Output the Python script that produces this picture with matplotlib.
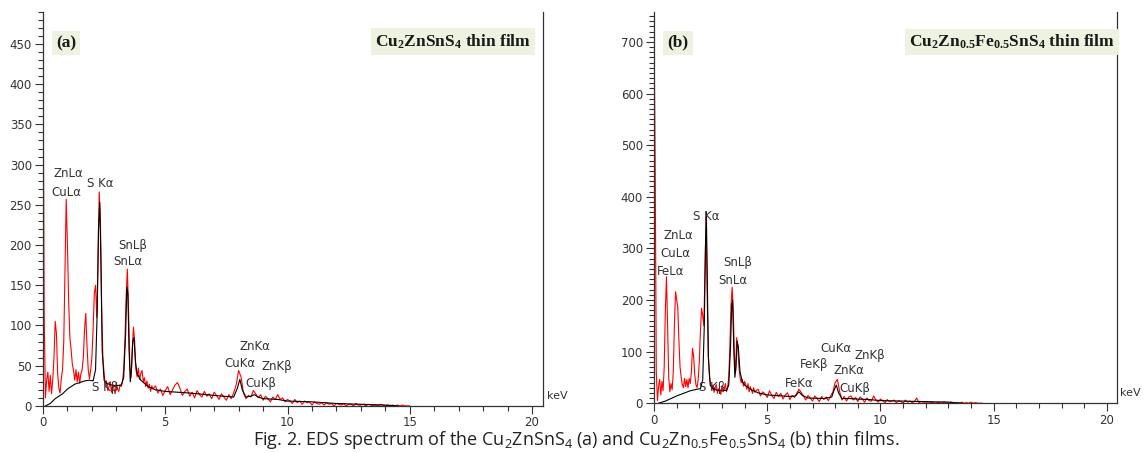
import numpy as np
import matplotlib
matplotlib.use("Agg")
import matplotlib.pyplot as plt
from matplotlib.ticker import MultipleLocator, FixedLocator

plt.rcParams['font.family'] = ['DejaVu Sans']

# ---- panel (a): Cu2ZnSnS4 ----
# measured counts, 0-4.5 keV in 0.05 keV steps
counts_a_low = [460, 110, 10, 32, 42, 18, 38, 15, 33, 60,
                105, 90, 40, 22, 16, 34, 45, 80, 170, 257,
                200, 130, 85, 70, 52, 44, 32, 45, 30, 42,
                28, 40, 45, 60, 95, 115, 75, 45, 34, 44,
                60, 95, 140, 150, 110, 180, 266, 230, 120, 60,
                40, 26, 31, 19, 24, 30, 17, 27, 22, 15,
                29, 21, 18, 26, 24, 30, 45, 80, 135, 170,
                120, 50, 35, 70, 98, 80, 45, 36, 47, 33,
                40, 44, 30, 35, 24, 31, 22, 27, 18, 25, 21]
# 4.6-15 keV in 0.1 keV steps
counts_a_high = [25, 16, 21, 13, 19, 24, 14, 20, 26, 29,
                 22, 13, 18, 21, 12, 17, 10, 19, 14, 11,
                 18, 12, 15, 9, 17, 13, 8, 15, 11, 7,
                 14, 9, 16, 26, 44, 36, 16, 9, 13, 11,
                 19, 15, 10, 14, 7, 12, 9, 5, 11, 8,
                 14, 8, 10, 5, 8, 6, 3, 8, 4, 6,
                 2, 6, 4, 5, 1, 5, 3, 2, 4, 1,
                 4, 2, 3, 0, 3, 2, 1, 3, 0, 2,
                 2, 0, 3, 1, 1, 2, 0, 2, 1, 0,
                 1, 0, 2, 1, 0, 1, 0, 1, 0, 1,
                 0, 1, 0, 0, 0]
fit_a_kev = [0.1, 0.3, 0.5, 0.8, 1.0, 1.3, 1.5, 1.7, 1.9, 2.05, 2.15, 2.22,
             2.27, 2.32, 2.37, 2.42, 2.5, 2.6, 2.8, 3.0, 3.2, 3.3, 3.38, 3.43,
             3.47, 3.52, 3.57, 3.62, 3.67, 3.72, 3.78, 3.85, 4.0, 4.3, 4.6, 5.0,
             6.0, 7.0, 7.8, 7.95, 8.05, 8.15, 8.3, 8.5, 8.65, 8.8, 9.0, 9.6,
             10.0, 11.0, 12.0, 13.0, 14.0, 14.5]
fit_a_counts = [0, 3, 9, 15, 21, 27, 29, 31, 32, 31, 45, 120,
                220, 253, 180, 70, 32, 28, 26, 25, 26, 35, 90, 148,
                140, 70, 30, 45, 80, 85, 55, 40, 32, 24, 20, 18,
                16, 13, 11, 22, 33, 20, 11, 12, 14, 11, 9, 8,
                6, 5, 3, 2, 1, 0]
labels_a = ["ZnL\u03b1", "CuL\u03b1", "S K\u03b1", "SnL\u03b2", "SnL\u03b1", "S K\u03b2",
            "ZnK\u03b1", "CuK\u03b1", "ZnK\u03b2", "CuK\u03b2"]
label_a_kev = [1.02, 0.95, 2.34, 3.69, 3.48, 2.55, 8.65, 8.07, 9.55, 8.93]
label_a_counts = [289, 265, 277, 200, 179, 23, 74, 53, 49, 28]

# ---- panel (b): Cu2Zn0.5Fe0.5SnS4 ----
counts_b_low = [730, 470, 60, 5, 32, 46, 16, 42, 24, 70,
                180, 245, 150, 50, 22, 38, 26, 60, 150, 216,
                200, 185, 120, 70, 50, 36, 30, 48, 32, 46,
                30, 48, 38, 60, 106, 90, 55, 36, 30, 45,
                80, 140, 184, 170, 150, 260, 360, 200, 90, 50,
                38, 26, 35, 21, 30, 36, 19, 28, 24, 17,
                33, 22, 27, 38, 22, 30, 50, 110, 190, 225,
                180, 90, 60, 127, 110, 70, 50, 40, 46, 33,
                42, 36, 27, 38, 22, 32, 26, 19, 30, 21, 24]
counts_b_high = [27, 14, 22, 18, 11, 24, 15, 9, 21, 13,
                 19, 8, 16, 20, 7, 15, 11, 19, 27, 21,
                 14, 6, 15, 10, 4, 14, 9, 3, 13, 7,
                 12, 5, 14, 22, 40, 46, 22, 6, 13, 4,
                 12, 14, 6, 11, 3, 12, 8, 2, 10, 5,
                 4, 14, 6, 2, 8, 5, 1, 7, 3, 4,
                 6, 1, 5, 3, 0, 6, 2, 4, 1, 3,
                 10, 1, 3, 2, 0, 3, 1, 2, 0, 1,
                 2, 0, 3, 1, 0, 2, 1, 0, 1, 0,
                 2, 0, 1, 0, 2, 0, 1, 0, 0, 0]
fit_b_kev = [0.2, 0.5, 0.8, 1.0, 1.3, 1.6, 1.9, 2.05, 2.15, 2.22, 2.27, 2.31,
             2.35, 2.4, 2.48, 2.6, 2.8, 3.0, 3.2, 3.3, 3.38, 3.43, 3.47, 3.52,
             3.57, 3.62, 3.67, 3.72, 3.8, 3.9, 4.0, 4.3, 4.6, 5.0, 6.0, 6.25,
             6.4, 6.55, 6.8, 7.5, 7.85, 7.95, 8.05, 8.15, 8.3, 8.6, 9.0, 9.5,
             10.0, 11.0, 12.0, 13.0, 13.6]
fit_b_counts = [0, 4, 10, 14, 19, 24, 27, 28, 45, 150, 300, 371,
                250, 90, 35, 28, 25, 24, 25, 35, 110, 190, 200, 110,
                50, 70, 120, 110, 60, 42, 35, 26, 20, 16, 13, 14,
                22, 15, 10, 9, 12, 25, 35, 20, 9, 9, 8, 7,
                5, 4, 3, 2, 0]
labels_b = ["S K\u03b1", "ZnL\u03b1", "CuL\u03b1", "FeL\u03b1", "SnL\u03b2", "SnL\u03b1",
            "S K\u03b2", "FeK\u03b1", "FeK\u03b2", "CuK\u03b1", "ZnK\u03b2", "ZnK\u03b1", "CuK\u03b2"]
label_b_kev = [2.31, 1.06, 0.96, 0.74, 3.68, 3.46, 2.55, 6.39, 7.05, 8.05, 9.55, 8.63, 8.89]
label_b_counts = [361, 324, 290, 256, 273, 238, 30, 39, 74, 106, 93, 64, 28]


def spectrum(low, high):
    # channel energies of the two sampled ranges
    e = np.concatenate([0.05 * np.arange(len(low)), 4.6 + 0.1 * np.arange(len(high))])
    return e, np.array(low + high)


def panel(ax, low, high, fit_e, fit_c, labels, lx, ly, ylim, ymajor, tag, title):
    e, c = spectrum(low, high)
    ax.plot(e, c, color='#ff0000', lw=0.8)
    ax.plot(fit_e, fit_c, color='black', lw=0.8)
    for t, x, y in zip(labels, lx, ly):
        ax.text(x, y, t, ha='center', va='center', fontsize=8.5, color='#333333')

    ax.xaxis.set_major_locator(MultipleLocator(5))
    ax.xaxis.set_minor_locator(MultipleLocator(1))
    ax.yaxis.set_major_locator(FixedLocator(np.arange(0, ylim - 20, ymajor)))
    ax.yaxis.set_minor_locator(MultipleLocator(10))
    ax.set_xlim(0, 20.45)
    ax.set_ylim(0, ylim)
    ax.tick_params(which='major', length=6, width=0.8, colors='#333333', labelsize=8.5, pad=2)
    ax.tick_params(which='minor', length=3.5, width=0.8, colors='#333333')
    ax.tick_params(axis='x', which='major', pad=1.5)
    ax.spines['top'].set_visible(False)
    for s in ['left', 'bottom', 'right']:
        ax.spines[s].set_color('#333333')
        ax.spines[s].set_linewidth(0.9)

    ax.text(1.007, 0.025, 'keV', transform=ax.transAxes, fontsize=8, color='#333333',
            ha='left', va='center')
    box = dict(facecolor='#edf3e0', edgecolor='none', pad=3)
    ax.text(tag[1], tag[2], tag[0], transform=ax.transAxes, ha='center', va='center',
            family='Liberation Serif', weight='bold', fontsize=12.5, color='#1a1a1a', bbox=box)
    ax.text(title[1], title[2], title[0], transform=ax.transAxes, ha='center', va='center',
            family='Liberation Serif', weight='bold', fontsize=12.5, color='#1a1a1a', bbox=box)


fig = plt.figure(figsize=(11.43, 4.53), dpi=100)
ax1 = fig.add_axes([0.0376, 0.104, 0.4375, 0.870])
ax2 = fig.add_axes([0.5722, 0.110, 0.4051, 0.8636])

panel(ax1, counts_a_low, counts_a_high, fit_a_kev, fit_a_counts, labels_a,
      label_a_kev, label_a_counts, 490, 50,
      ('(a)', 0.046, 0.92),
      (r'Cu$\mathregular{_2}$ZnSnS$\mathregular{_4}$ thin film', 0.82, 0.924))
panel(ax2, counts_b_low, counts_b_high, fit_b_kev, fit_b_counts, labels_b,
      label_b_kev, label_b_counts, 758, 100,
      ('(b)', 0.052, 0.921),
      (r'Cu$\mathregular{_2}$Zn$\mathregular{_{0.5}}$Fe$\mathregular{_{0.5}}$SnS$\mathregular{_4}$ thin film',
       0.773, 0.923))

fig.text(0.504, 0.029,
         r'Fig. 2. EDS spectrum of the Cu$\mathregular{_2}$ZnSnS$\mathregular{_4}$ (a) and '
         r'Cu$\mathregular{_2}$Zn$\mathregular{_{0.5}}$Fe$\mathregular{_{0.5}}$SnS$\mathregular{_4}$ (b) thin films.',
         ha='center', va='center', fontsize=13, color='#222222',
         family=['Liberation Sans Narrow', 'Open Sans'])

fig.savefig('out.png', dpi=100)
